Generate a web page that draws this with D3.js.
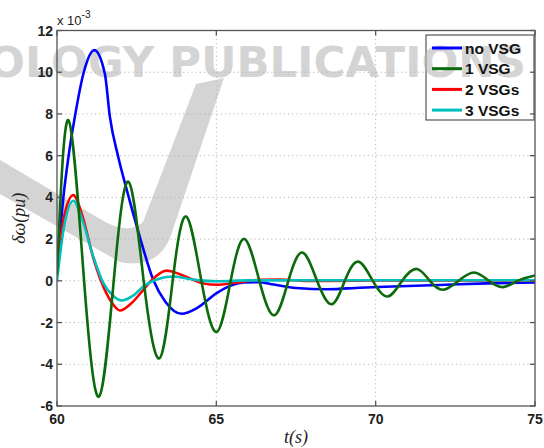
<!DOCTYPE html>
<html>
<head>
<meta charset="utf-8">
<script src="https://cdn.jsdelivr.net/npm/d3@7"></script>
<style>
  html,body{margin:0;padding:0;background:#fff;}
  svg{display:block;}
</style>
</head>
<body>
<div id="view"></div>
<script>
(function(){
/* ===================== DATA ===================== */
const SERIES_NAMES = ["no VSG", "1 VSG", "2 VSGs", "3 VSGs"];
const SERIES_COLORS = {
  "no VSG" : "#0000ff",
  "1 VSG"  : "#0b6a0b",
  "2 VSGs" : "#ff0000",
  "3 VSGs" : "#00c0c0"
};
const xTickValues = [60, 65, 70, 75];
const yTickValues = [-6, -4, -2, 0, 2, 4, 6, 8, 10, 12];

// no VSG (blue), values x 10^-3
const tNoVsg = [60.00, 60.20, 60.36, 60.56, 60.83, 61.17, 61.50, 61.66, 61.92, 62.20, 62.60, 63.02, 63.40, 63.91, 64.40, 65.01, 65.43, 65.85, 66.30, 66.80, 67.50, 68.50, 69.50, 70.30, 72.00, 73.50, 75.00];
const vNoVsg = [0.5, 4.0, 5.95, 7.86, 9.94, 11.06, 9.94, 7.86, 5.95, 4.3, 2.1, 0.05, -1.0, -1.58, -1.30, -0.59, -0.24, -0.08, -0.06, -0.18, -0.34, -0.40, -0.33, -0.28, -0.20, -0.12, -0.08];

// 1 VSG (green)
const tOneVsg = [60.00, 60.36, 60.85, 61.32, 61.78, 62.24, 62.72, 63.21, 63.63, 64.05, 64.53, 65.01, 65.45, 65.88, 66.35, 66.82, 67.26, 67.70, 68.16, 68.62, 69.03, 69.45, 69.91, 70.37, 70.83, 71.29, 71.70, 72.12, 72.60, 73.09, 73.55, 74.00, 74.45, 75.00];
const vOneVsg = [0.3, 7.70, 0, -5.55, 0, 4.75, 0, -3.72, 0, 3.08, 0, -2.45, 0, 2.01, 0, -1.65, 0, 1.36, 0, -1.12, 0, 0.92, 0, -0.75, 0, 0.57, 0, -0.43, 0, 0.40, 0, -0.30, 0, 0.26];

// 2 VSGs (red)
const tTwoVsg = [60.00, 60.20, 60.51, 60.80, 61.12, 61.38, 61.70, 61.98, 62.35, 62.71, 62.95, 63.44, 63.85, 64.28, 64.60, 65.01, 65.64, 66.37, 67.00, 67.80, 68.50, 70.00, 75.00];
const vTwoVsg = [0.3, 2.9, 4.11, 3.1, 1.2, 0, -1.0, -1.42, -1.05, -0.43, 0, 0.49, 0.32, 0.05, -0.13, -0.19, -0.08, 0.05, 0.06, 0.0, 0.0, 0.02, 0.02];

// 3 VSGs (cyan)
const tThreeVsg = [60.00, 60.20, 60.51, 60.80, 61.14, 61.45, 61.75, 62.03, 62.40, 62.71, 63.10, 63.65, 64.10, 64.49, 65.00, 66.00, 70.00, 75.00];
const vThreeVsg = [0.0, 2.4, 3.84, 2.9, 1.16, -0.1, -0.7, -0.94, -0.7, -0.27, 0.05, 0.21, 0.1, 0.02, -0.02, 0.02, 0.03, 0.03];

const SERIES_DATA = {
  "no VSG" : [tNoVsg, vNoVsg],
  "1 VSG"  : [tOneVsg, vOneVsg],
  "2 VSGs" : [tTwoVsg, vTwoVsg],
  "3 VSGs" : [tThreeVsg, vThreeVsg]
};
const DRAW_ORDER = ["no VSG", "2 VSGs", "3 VSGs", "1 VSG"];

/* ===================== DRAW ===================== */
function draw(){
  const W = 544, H = 448;
  const M = { l:57, r:9, t:30.5, b:42 };   // plot box 57..535 x 30.5..406
  const svg = d3.select("#view").append("svg").attr("width", W).attr("height", H);
  svg.append("rect").attr("width", W).attr("height", H).attr("fill", "#fff");

  const x = d3.scaleLinear().domain([60, 75]).range([M.l, W - M.r]);
  const y = d3.scaleLinear().domain([-6, 12]).range([H - M.b, M.t]);
  const x0 = x.range()[0], x1 = x.range()[1], y0 = y.range()[1], y1 = y.range()[0];

  // dotted grid
  const grid = svg.append("g").attr("stroke", "#b5b5b5").attr("stroke-width", 1)
    .attr("stroke-dasharray", "1.2,3");
  grid.selectAll("line.gy").data(yTickValues.slice(1, -1)).join("line")
    .attr("x1", x0).attr("x2", x1).attr("y1", d => y(d)).attr("y2", d => y(d));
  grid.selectAll("line.gx").data(xTickValues.slice(1, -1)).join("line")
    .attr("y1", y0).attr("y2", y1).attr("x1", d => x(d)).attr("x2", d => x(d));

  // legend box (white), drawn before watermark
  const LG = { x:426, y:35, w:108, h:85 };
  svg.append("rect").attr("x", LG.x).attr("y", LG.y).attr("width", LG.w).attr("height", LG.h)
    .attr("fill", "#fff").attr("stroke", "#555").attr("stroke-width", 1.2);

  // watermark (light grey logo behind the curves)
  const wm = svg.append("g").attr("opacity", 0.6);
  wm.append("path")
    .attr("d", "M0,160 L100,219 Q128,236 143,222 L196,84 L224,78 L170,238 Q156,270 120,262 L0,194 Z")
    .attr("fill", "#b8b8b8");
  wm.append("text").attr("x", -12).attr("y", 77)
    .attr("textLength", 538).attr("lengthAdjust", "spacingAndGlyphs")
    .style("font-family", "'DejaVu Sans', sans-serif").style("font-weight", "bold")
    .style("font-size", "42px").attr("fill", "#b8b8b8")
    .text("OLOGY PUBLICATIONS");

  // curves
  svg.append("clipPath").attr("id", "plotClip").append("rect")
    .attr("x", x0).attr("y", y0).attr("width", x1 - x0).attr("height", y1 - y0);
  const lineGen = d3.line().x(d => x(d[0])).y(d => y(d[1]));
  const curves = svg.append("g").attr("clip-path", "url(#plotClip)");
  DRAW_ORDER.forEach(name => {
    const [ts, vs] = SERIES_DATA[name];
    const pts = ts.map((t, i) => [t, vs[i]]);
    lineGen.curve(name === "1 VSG" ? d3.curveNatural : d3.curveMonotoneX);
    curves.append("path").attr("d", lineGen(pts))
      .attr("fill", "none").attr("stroke", SERIES_COLORS[name])
      .attr("stroke-width", 2.6).attr("stroke-linejoin", "round");
  });

  // legend content
  const lgItems = svg.append("g").selectAll("g").data(SERIES_NAMES).join("g")
    .attr("transform", (d, i) => `translate(${LG.x + 6},${LG.y + 13 + i * 20.7})`);
  lgItems.append("line").attr("x1", 0).attr("x2", 30).attr("y1", 0).attr("y2", 0)
    .attr("stroke", d => SERIES_COLORS[d]).attr("stroke-width", 3);
  lgItems.append("text").attr("x", 33).attr("y", 0).attr("dy", "0.36em")
    .style("font-family", "'Liberation Sans', Arial, sans-serif").style("font-weight", "bold")
    .style("font-size", "15.5px").attr("fill", "#111").text(d => d);

  // axes box + inward ticks on all sides
  const ax = svg.append("g").attr("stroke", "#555").attr("stroke-width", 1.3).attr("fill", "none");
  ax.append("rect").attr("x", x0).attr("y", y0).attr("width", x1 - x0).attr("height", y1 - y0);
  const TK = 5;
  ax.selectAll("line.xb").data(xTickValues).join("line")
    .attr("x1", d => x(d)).attr("x2", d => x(d)).attr("y1", y1).attr("y2", y1 - TK);
  ax.selectAll("line.xt").data(xTickValues).join("line")
    .attr("x1", d => x(d)).attr("x2", d => x(d)).attr("y1", y0).attr("y2", y0 + TK);
  ax.selectAll("line.yl").data(yTickValues).join("line")
    .attr("y1", d => y(d)).attr("y2", d => y(d)).attr("x1", x0).attr("x2", x0 + TK);
  ax.selectAll("line.yr").data(yTickValues).join("line")
    .attr("y1", d => y(d)).attr("y2", d => y(d)).attr("x1", x1).attr("x2", x1 - TK);

  // tick labels
  const tickFont = sel => sel.style("font-family", "'Liberation Sans', Arial, sans-serif")
    .style("font-weight", "bold").style("font-size", "14px").attr("fill", "#222");
  svg.append("g").selectAll("text").data(yTickValues).join("text")
    .attr("x", x0 - 4).attr("y", d => y(d)).attr("dy", "0.36em").attr("text-anchor", "end")
    .call(tickFont).text(d => d);
  svg.append("g").selectAll("text").data(xTickValues).join("text")
    .attr("x", d => x(d)).attr("y", y1 + 18).attr("text-anchor", "middle")
    .call(tickFont).text(d => d);

  // exponent
  const ex = svg.append("text").attr("x", x0).attr("y", 25)
    .style("font-family", "'Liberation Sans', Arial, sans-serif").style("font-size", "13px").attr("fill", "#222");
  ex.append("tspan").text("x 10");
  ex.append("tspan").attr("dy", -7).style("font-size", "10px").text("-3");

  // axis labels
  const labelFont = sel => sel.style("font-family", "'Liberation Serif', 'DejaVu Serif', serif")
    .style("font-style", "italic").style("font-size", "18px").attr("fill", "#222");
  svg.append("text").attr("x", (x0 + x1) / 2).attr("y", 443).attr("text-anchor", "middle")
    .call(labelFont).text("t(s)");
  svg.append("text").attr("transform", `translate(25,${(y0 + y1) / 2}) rotate(-90)`)
    .attr("text-anchor", "middle").call(labelFont).text("δω(pu)");
}

draw();
})();
</script>
</body>
</html>
